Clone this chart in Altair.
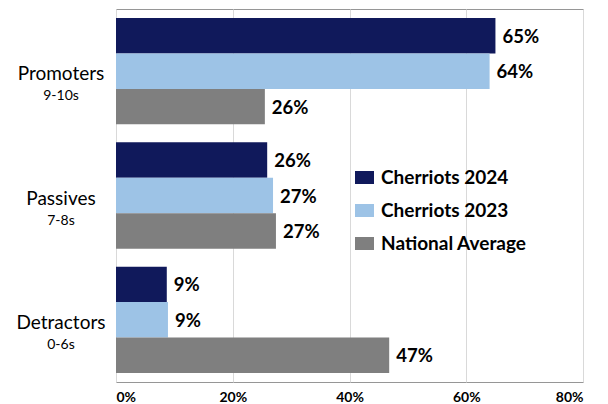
import altair as alt
import pandas as pd

categories = ["Promoters", "Passives", "Detractors"]
sublabels = ["9-10s", "7-8s", "0-6s"]
series = ["Cherriots 2024", "Cherriots 2023", "National Average"]
colors = ["#10195B", "#9DC3E6", "#7F7F7F"]
cherriots_2024 = [65.0, 25.9, 8.7]
cherriots_2023 = [64.0, 26.9, 8.9]
national_avg = [25.5, 27.4, 46.8]
x_ticks = [0, 20, 40, 60, 80]

rows = []
for i, c in enumerate(categories):
    for s, vals in zip(series, [cherriots_2024, cherriots_2023, national_avg]):
        rows.append({"category": c, "series": s, "value": vals[i],
                     "label": f"{round(vals[i])}%"})
df = pd.DataFrame(rows)
cat_df = pd.DataFrame({"category": categories, "sub": sublabels})

FONT = "Lato"

y_enc = alt.Y("category:N", sort=categories, axis=None,
              scale=alt.Scale(paddingInner=0.145, paddingOuter=0.073))
yoff = alt.YOffset("series:N", sort=series, scale=alt.Scale(paddingInner=0, paddingOuter=0))
x_enc = alt.X("value:Q", scale=alt.Scale(domain=[0, 80], nice=False, zero=True),
              axis=alt.Axis(values=x_ticks, labelExpr="datum.value + '%'", title=None,
                            grid=True, gridColor="#D9D9D9", ticks=False, domain=False,
                            labelFontSize=14, labelFontWeight="bold", labelColor="#000000",
                            labelFont=FONT, labelPadding=8))

bars = alt.Chart(df).mark_bar().encode(
    x=x_enc,
    y=y_enc,
    yOffset=yoff,
    color=alt.Color("series:N", sort=series,
                    scale=alt.Scale(domain=series, range=colors),
                    legend=alt.Legend(orient="none", legendX=239, legendY=159, title=None,
                                      symbolType="M-1.46,-1H1.46V1H-1.46Z", symbolSize=169,
                                      symbolStrokeWidth=0, symbolOpacity=1,
                                      labelFontSize=19, labelFontWeight="bold",
                                      labelFont=FONT, labelColor="#000000",
                                      labelOffset=7, rowPadding=13, padding=0,
                                      labelLimit=300)),
)

labels = alt.Chart(df).mark_text(align="left", baseline="middle", dx=7, dy=1,
                                 fontSize=18.5, fontWeight="bold", font=FONT,
                                 color="#000000").encode(
    x="value:Q",
    y=alt.Y("category:N", sort=categories),
    yOffset=alt.YOffset("series:N", sort=series),
    text="label:N",
)

cat_main = alt.Chart(cat_df).mark_text(align="center", baseline="alphabetic", dy=9,
                                       fontSize=19, font=FONT, color="#000000").encode(
    x=alt.value(-55),
    y=alt.Y("category:N", sort=categories),
    text="category:N",
)
cat_sub = alt.Chart(cat_df).mark_text(align="center", baseline="alphabetic", dy=29,
                                      fontSize=14, font=FONT, color="#000000").encode(
    x=alt.value(-55),
    y=alt.Y("category:N", sort=categories),
    text="sub:N",
)

chart = alt.layer(bars, labels, cat_main, cat_sub).properties(
    width=467, height=373,
    autosize=alt.AutoSizeParams(type="none"),
    padding={"left": 108, "top": 1, "right": 17, "bottom": 22},
).configure_view(stroke="#969696", strokeWidth=1)

chart.save("out.html", embed_options={"renderer": "svg", "actions": False})
